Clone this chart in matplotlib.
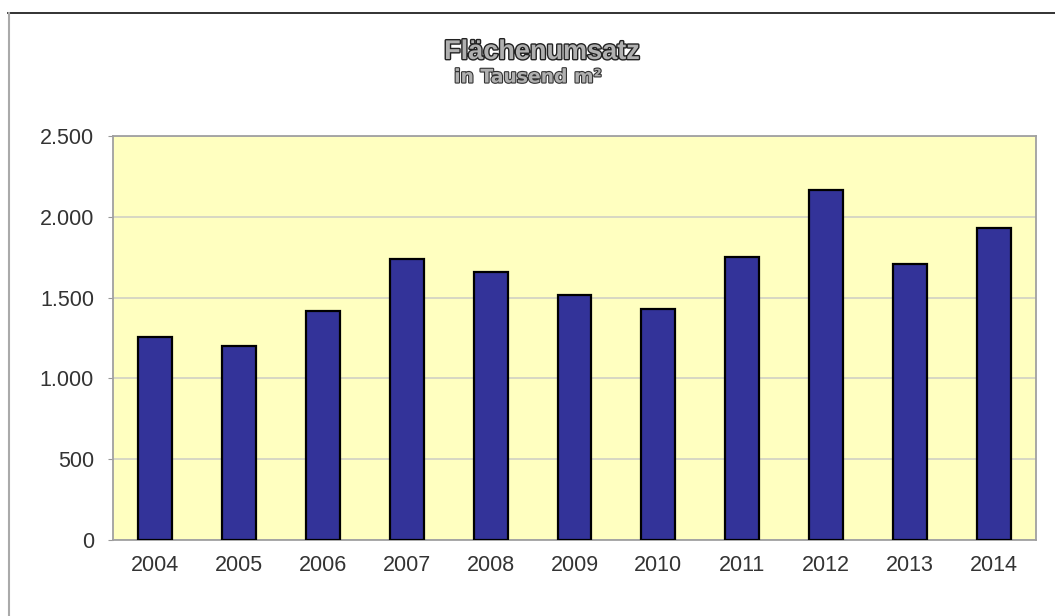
import matplotlib.pyplot as plt
import matplotlib.patheffects as pe
from matplotlib.lines import Line2D
from matplotlib.ticker import FuncFormatter

years = ['2004', '2005', '2006', '2007', '2008', '2009', '2010', '2011', '2012', '2013', '2014']
umsatz = [1258, 1200, 1417, 1738, 1659, 1514, 1427, 1754, 2164, 1707, 1932]
yticks = [0, 500, 1000, 1500, 2000, 2500]

plt.rcParams['font.family'] = ['Liberation Sans', 'DejaVu Sans']

fig = plt.figure(figsize=(10.55, 6.16), dpi=100)
ax = fig.add_axes([113 / 1055, 1 - 540 / 616, (1036 - 113) / 1055, (540 - 136) / 616])
ax.set_facecolor('#ffffc0')

x = range(len(years))
ax.bar(x, umsatz, width=0.405, color='#333399', edgecolor='black', linewidth=1.6, zorder=3)

ax.set_xlim(-0.5, len(years) - 0.5)
ax.set_ylim(0, 2500)
ax.set_yticks(yticks)
ax.yaxis.set_major_formatter(FuncFormatter(lambda v, p: f'{int(v):,}'.replace(',', '.')))
ax.set_xticks(list(x))
ax.set_xticklabels(years)
ax.grid(axis='y', color='#d4d4c4', linewidth=1.3, zorder=1)
ax.tick_params(axis='y', length=3.6, color='#999999', labelsize=15.5, labelcolor='#333333', pad=10)
ax.tick_params(axis='x', length=0, labelsize=15.5, labelcolor='#333333', pad=11)
for s in ax.spines.values():
    s.set_color('#a0a0a0')
    s.set_linewidth(1.3)

# title with outlined look
fig.text(542 / 1055, 1 - 52 / 616, 'Flächenumsatz', ha='center', va='center', fontsize=19.5,
         fontweight='bold', color='#b0b0b0',
         path_effects=[pe.withStroke(linewidth=2, foreground='#222222')])
fig.text(528 / 1055, 1 - 77 / 616, 'in Tausend m²', ha='center', va='center', fontsize=13.5,
         family='DejaVu Sans', fontweight='bold', color='#b0b0b0',
         path_effects=[pe.withStroke(linewidth=1.6, foreground='#333333')])

# outer frame
fig.add_artist(Line2D([8 / 1055, 1], [1 - 13 / 616] * 2, color='#222222', linewidth=1.3))
fig.add_artist(Line2D([9 / 1055] * 2, [0, 1 - 13 / 616], color='#aaaaaa', linewidth=1.5))

fig.savefig('out.png', dpi=100)
